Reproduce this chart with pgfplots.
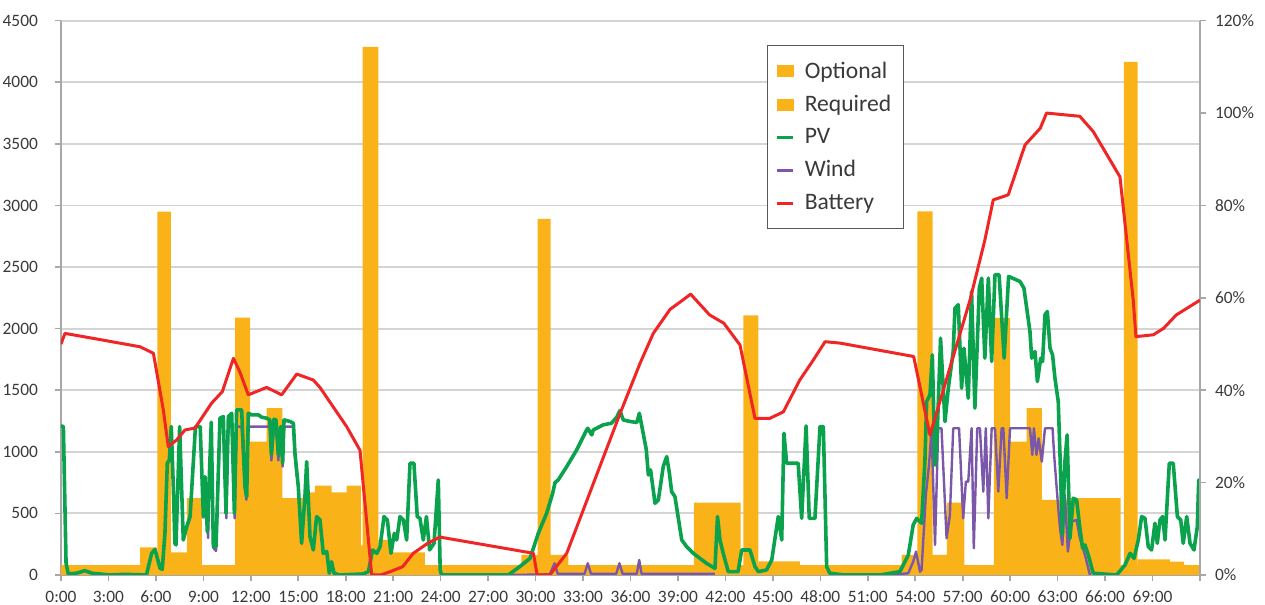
\documentclass[border=0pt]{standalone}
\usepackage{fontspec}
\setmainfont{Carlito}
\usepackage{pgfplots}
\usepackage{pgfplotstable}
\pgfplotsset{compat=1.18}

\definecolor{loadc}{HTML}{FAB219}
\definecolor{pvc}{HTML}{0BA24E}
\definecolor{windc}{HTML}{7A57A8}
\definecolor{batc}{HTML}{F02525}
\definecolor{gridc}{HTML}{D4D4D4}
\definecolor{axc}{HTML}{A8A8A8}
\definecolor{txt}{HTML}{3A3A3A}

% hours, W
\pgfplotstableread{
x y
0 80
5.0 225
6.05 184
7.95 623
8.9 80
11.95 1083
13.0 1354
14.0 623
15.75 670
16.05 726
17.1 670
18.06 726
18.95 240
20.06 284
21.0 184
23.0 80
29.1 163
32.07 80
40.0 588
42.96 80
44.08 110
46.7 80
53.14 163
56.0 588
57.1 80
60.0 1083
61.04 1354
62.0 609
63.78 623
66.98 80
68.06 127
70.1 108
71.0 80
72.0 80
}\required

\pgfplotstableread{
x y
0 0
6.1 2950
6.95 0
11.0 2090
11.95 0
19.07 4287
20.06 0
30.13 2890
30.95 0
43.13 2107
44.08 0
54.13 2951
55.1 0
58.97 2088
60.0 0
67.19 4165
68.06 0
72 0
}\optional

\pgfplotstableread{
x y
0 1210
0.15 1205
0.32 95
0.46 8
1.0 15
1.5 35
2.0 13
2.5 8
3.0 0
4.0 5
5.4 0
5.73 176
5.94 208
6.26 55
6.4 46
6.57 338
6.72 907
6.85 934
6.97 1205
7.1 718
7.2 257
7.27 244
7.5 1205
7.73 284
7.84 338
7.95 393
8.16 474
8.5 1205
8.8 1205
9.0 474
9.1 799
9.25 350
9.5 1240
9.63 230
9.8 230
10.05 1273
10.26 1286
10.43 501
10.58 1286
10.79 1313
10.96 501
11.1 1340
11.42 1340
11.63 718
11.74 636
11.84 1313
12.05 1300
12.48 1300
12.68 1281
13.0 1273
13.2 1259
13.3 975
13.46 1264
13.59 1259
13.74 975
13.89 1205
14.01 907
14.1 1259
14.48 1246
14.69 1232
14.79 988
15.0 717
15.21 257
15.42 636
15.53 920
15.74 311
15.95 203
16.16 474
16.37 447
16.58 176
16.8 190
16.96 14
17.1 108
17.26 14
17.6 0
19.1 8
19.43 27
19.7 203
19.96 176
20.17 230
20.42 474
20.63 447
20.86 176
21.07 338
21.22 284
21.43 474
21.64 447
21.85 284
22.06 907
22.31 907
22.52 474
22.69 460
22.9 284
23.1 474
23.3 203
23.58 257
23.85 772
23.97 40
24.06 0
28.28 0
29.0 68
29.65 135
30.17 338
30.7 501
31.08 663
31.23 750
31.43 772
31.97 880
32.6 1016
33.23 1178
33.3 1191
33.55 1137
33.65 1178
34.28 1219
34.8 1232
35.13 1281
35.33 1335
35.54 1259
35.97 1246
36.4 1238
36.56 1313
36.7 1219
37.0 1016
37.13 812
37.27 853
37.55 582
37.76 609
38.07 880
38.29 961
38.46 826
38.6 677
38.81 636
39.24 284
39.55 230
39.97 176
40.8 95
41.34 54
41.5 474
41.66 284
41.86 176
42.18 27
42.8 27
43.03 203
43.55 203
43.87 68
44.08 27
44.6 41
44.93 122
45.34 474
45.56 284
45.7 1151
45.87 907
46.6 907
46.82 460
47.1 1210
47.3 460
47.66 460
47.98 1205
48.19 1205
48.4 68
48.6 14
49.5 0
51.77 0
53.03 27
53.56 162
53.87 406
54.09 460
54.4 420
54.61 920
54.72 1408
54.93 1462
55.08 1787
55.25 893
55.4 1191
55.6 1922
55.88 1245
56.09 1516
56.4 1814
56.51 2166
56.72 2194
56.93 1516
57.08 1841
57.35 1435
57.56 2302
57.77 1354
58.05 2329
58.2 2410
58.4 1760
58.62 2410
58.83 1733
59.04 2437
59.3 2437
59.62 1760
59.9 2424
60.62 2383
60.87 2329
61.25 1977
61.36 1760
61.57 1814
61.72 1570
61.93 1760
62.05 1733
62.2 2112
62.35 2139
62.52 1841
62.68 1787
62.83 1598
63.04 1408
63.15 975
63.3 325
63.46 920
63.6 1137
63.78 298
63.99 623
64.2 609
64.41 379
64.58 217
64.73 244
64.94 162
65.25 14
66.73 0
67.26 81
67.58 176
67.83 135
68.1 284
68.31 474
68.52 460
68.73 230
68.94 203
69.15 420
69.3 257
69.47 447
69.64 474
69.79 284
70.06 907
70.31 907
70.57 474
70.78 447
70.94 257
71.16 474
71.37 257
71.62 203
71.83 393
71.92 772
72.0 555
}\pv

\pgfplotstableread{
x y
9.0 460
9.1 790
9.3 300
9.48 1205
9.63 220
9.8 195
10.05 1205
10.26 1205
10.45 460
10.58 1205
10.8 1205
10.98 460
11.1 1205
11.42 1205
11.63 700
11.72 610
11.84 1205
13.2 1205
13.3 930
13.46 1205
13.59 1205
13.74 930
13.89 1205
14.01 880
14.1 1205
14.69 1205
14.79 960
14.9 800
nan nan
28.3 0
30.9 5
31.2 95
31.4 10
33.1 10
33.3 95
33.5 10
35.1 10
35.3 95
35.5 10
36.4 10
36.55 122
36.7 10
41.34 10
nan nan
52.4 0
53.56 14
53.87 108
54.05 190
54.3 27
54.4 41
54.67 650
54.87 893
55.03 1191
55.25 244
55.45 1191
55.66 1191
55.98 298
56.19 487
56.4 1191
56.77 1191
57.03 460
57.2 758
57.35 758
57.56 1191
57.7 217
57.92 1191
58.09 1191
58.3 677
58.46 1191
58.62 460
58.83 1191
59.04 1191
59.25 677
59.46 1191
59.57 1191
59.78 623
59.99 1191
61.25 1191
61.4 975
61.5 1191
61.66 975
61.8 1110
62.0 920
62.2 1191
62.68 1191
62.78 975
63.04 542
63.15 379
63.3 244
63.46 650
63.65 190
63.87 433
64.2 447
64.41 298
64.73 162
65.04 0
}\wind

% battery state of charge, percent
\pgfplotstableread{
x y
0 50
0.25 52.3
2.4 51
5.0 49.4
5.84 48
6.47 35.7
6.78 27.8
7.3 29.2
7.84 31.4
8.47 31.8
9.52 37.2
10.2 39.7
10.9 46.9
11.3 44
11.84 39
13.0 40.6
13.95 39
14.9 43.5
15.95 42.2
16.37 40.6
18.06 32.1
18.9 27
19.64 0
20.2 0
20.8 0.7
21.6 1.8
22.27 4.7
23.2 6.9
23.96 8.2
29.86 4.7
30.1 0
30.9 0
31.97 4.7
35.3 34.6
36.6 45.8
37.44 52.3
38.5 57.5
39.3 59.5
39.8 60.8
41.0 56.3
41.9 54.5
42.92 49.8
43.87 33.9
44.8 33.9
45.66 35.3
46.7 42.2
47.55 46.5
48.3 50.5
49.24 50.2
53.9 47.3
54.93 30.3
57.46 59.5
58.4 72.5
58.93 81.2
59.88 82.3
60.94 93.1
61.9 96.7
62.3 100
64.4 99.3
65.25 96
66.94 86.2
67.78 59.5
67.95 51.6
69.05 52
69.7 53.4
70.5 56.3
72.0 59.5
}\battery

\pgfplotsset{
  sqlegend/.style={legend image code/.code={\fill[loadc] (0pt,-2.7pt) rectangle (8pt,2.7pt);}},
  lnlegend/.style={legend image code/.code={\draw[##1] (0pt,0pt) -- (8pt,0pt);}},
  common/.style={
    scale only axis, width=569.5pt, height=277.15pt,
    xmin=0, xmax=72,
    axis line style={axc, line width=0.8pt, -},
    tick style={axc, line width=0.8pt},
    tick align=outside,
    major tick length=3pt,
    tick label style={font=\fontsize{8.7}{10}\selectfont, text=txt},
    /pgf/number format/assume math mode=true,
    /pgf/number format/1000 sep={},
  },
}

\begin{document}
\begin{tikzpicture}
\begin{axis}[common, name=main,
    ymin=0, ymax=4500,
    axis x line*=bottom, axis y line*=left,
    ytick={0,500,...,4500},
    ymajorgrids, grid style={gridc, line width=0.9pt},
    xtick={0,3,...,72},
    xticklabels={0:00,3:00,6:00,9:00,12:00,15:00,18:00,21:00,24:00,27:00,30:00,33:00,36:00,39:00,42:00,45:00,48:00,51:00,54:00,57:00,60:00,63:00,66:00,69:00,{}},
    yticklabel style={anchor=east, xshift=-5pt},
    xticklabel style={anchor=north, text height=6.2pt, text depth=0.5pt, yshift=-1pt},
  ]
  \addplot[const plot, fill=loadc, draw=none] table {\required} \closedcycle;
  \addplot[const plot, fill=loadc, draw=none] table {\optional} \closedcycle;
  \addplot[windc, line width=1.2pt, line join=round, unbounded coords=jump] table {\wind};
  \addplot[pvc, line width=1.8pt, line join=round] table {\pv};
\end{axis}
\begin{axis}[common,
    ymin=0, ymax=120,
    axis x line=none, axis y line*=right,
    ytick={0,20,...,120},
    yticklabel={\pgfmathprintnumber{\tick}\%},
    yticklabel style={anchor=west, xshift=1pt},
    lnlegend,
    legend style={at={(0.62,0.956)}, anchor=north west, draw=txt!85, line width=0.6pt,
      font=\fontsize{11.8}{13}\selectfont, text=txt, fill=white,
      row sep=3pt, inner xsep=4pt, inner ysep=6pt,
      /tikz/every odd column/.append style={column sep=3pt}},
    legend cell align=left,
  ]
  \addlegendimage{sqlegend}
  \addlegendentry{Optional}
  \addlegendimage{sqlegend}
  \addlegendentry{Required}
  \addlegendimage{pvc, line width=1.5pt}
  \addlegendentry{PV}
  \addlegendimage{windc, line width=1.5pt}
  \addlegendentry{Wind}
  \addplot[batc, line width=1.5pt, line join=round] table {\battery};
  \addlegendentry{Battery}
\end{axis}
\pgfresetboundingbox
\path ([xshift=-30.5pt,yshift=-15pt]main.south west) rectangle ([xshift=32.5pt,yshift=10.35pt]main.north east);
\end{tikzpicture}
\end{document}
